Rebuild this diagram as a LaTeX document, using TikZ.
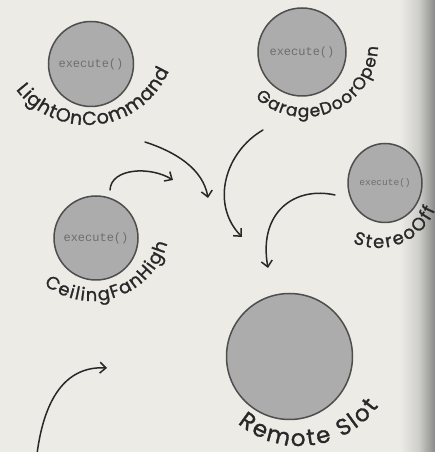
\documentclass[tikz,border=0pt]{standalone}
\usepackage{fontspec}
\newfontfamily\labelfont{Poppins}[FakeBold=1.2]
\newfontfamily\execfont{Liberation Mono}
\usetikzlibrary{decorations.text,arrows.meta,calc,shapes.geometric}
\definecolor{paper}{RGB}{236,235,230}
\definecolor{gutmid}{RGB}{205,205,202}
\definecolor{gutdark}{RGB}{138,138,136}
\definecolor{ballin}{RGB}{172,172,172}
\definecolor{ballout}{RGB}{122,122,122}
\definecolor{balledge}{RGB}{78,78,78}
\definecolor{ink}{RGB}{40,40,40}
\definecolor{execink}{RGB}{110,110,110}
\pgfdeclareradialshading{ballshade}{\pgfpoint{0bp}{0bp}}{color(0bp)=(ballin); color(30bp)=(ballin); color(45bp)=(ballout); color(50bp)=(ballout)}
\tikzset{
  ball/.style={circle, shading=ballshade, draw=balledge, line width=1.5pt, inner sep=0pt,
    font=\execfont\fontsize{12}{12}\selectfont, text=execink},
  lbl/.style={decorate, decoration={text along path, text align=fit to path, text color=ink}},
  flow/.style={draw=ink, line width=1.5pt, line cap=round, -{Straight Barb[length=6pt,width=11pt]}},
}
\begin{document}
\begin{tikzpicture}[x=1pt,y=1pt]
\useasboundingbox (0,0) rectangle (435,452);
% paper and gutter
\fill[paper] (0,0) rectangle (435,452);
\shade[left color=paper, right color=gutmid] (400,0) rectangle (419,452);
\shade[left color=gutmid, right color=gutdark] (418.8,0) rectangle (435,452);

% balls
\node[ball, minimum size=85pt] (light) at (91,388) {execute()};
\node[ball, minimum size=88pt] (garage) at (302,400) {execute()};
\node[ball, minimum size=84pt] (fan) at (96,214) {execute()};
\node[ball, ellipse, minimum width=74pt, minimum height=79pt,
      font=\execfont\fontsize{9.5}{9.5}\selectfont] (stereo) at (385,269) {execute()};
\node[ball, minimum size=126pt] (remote) at (289.5,95.5) {};

% curved labels
\path[lbl, decoration={text={|\labelfont\fontsize{19}{19}\selectfont|LightOnCommand}}]
  ($(87,416)+(217:89)$) arc[start angle=217, end angle=337, radius=89];
\path[lbl, decoration={text={|\labelfont\fontsize{17}{17}\selectfont|GarageDoorOpen}}]
  ($(305,408)+(227:73)$) arc[start angle=227, end angle=358, radius=73];
\path[lbl, decoration={text={|\labelfont\fontsize{18}{18}\selectfont|CeilingFanHigh}}]
  ($(92,229)+(232:78)$) arc[start angle=232, end angle=345, radius=78];
\path[lbl, decoration={text={|\labelfont\fontsize{18}{18}\selectfont|StereoOff}}]
  ($(378,266)+(246:62)$) arc[start angle=246, end angle=338, radius=62];
\path[lbl, decoration={text={|\labelfont\fontsize{23}{23}\selectfont|Remote Slot}}]
  ($(300,103)+(230:97)$) arc[start angle=230, end angle=324, radius=97];

% arrows
\coordinate (a1s) at (145,310); \coordinate (a1e) at (208,254);
\coordinate (a2s) at (263,322); \coordinate (a2e) at (242,215);
\coordinate (a3s) at (335,257); \coordinate (a3e) at (268,184);
\coordinate (a4s) at (110,262); \coordinate (a4e) at (173,272);
\coordinate (a5s) at (37,-2);   \coordinate (a5e) at (107,84);
\draw[flow] (a1s) .. controls (176,300) and (203,283) .. (a1e);
\draw[flow] (a2s) .. controls (225,300) and (210,248) .. (a2e);
\draw[flow] (a3s) .. controls (295,266) and (258,240) .. (a3e);
\draw[flow] (a4s) .. controls (111,284) and (150,286) .. (a4e);
\draw[flow] (a5s) .. controls (45,60) and (70,86) .. (a5e);
\end{tikzpicture}
\end{document}
